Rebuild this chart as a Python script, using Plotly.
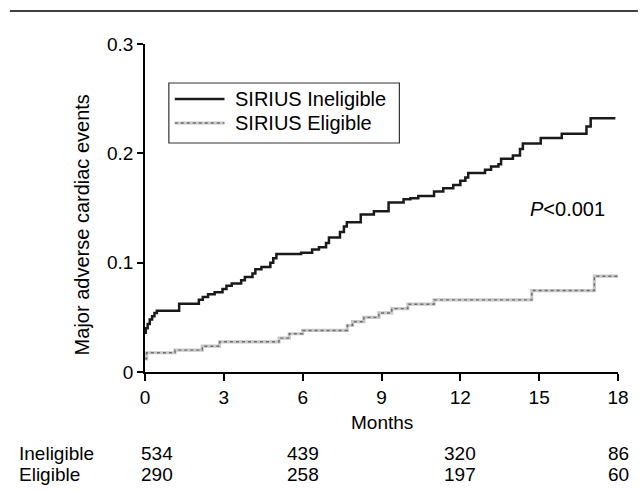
import plotly.graph_objects as go

# ---- data ----
inel_t = [0, 0.03, 0.1, 0.18, 0.27, 0.36, 0.45, 1.3, 2.05, 2.2, 2.4, 2.65, 2.95, 3.1, 3.3, 3.66,
          3.8, 4.09, 4.2, 4.43, 4.77, 4.88, 5.0, 5.94, 6.36, 6.62, 6.89, 7.0, 7.42, 7.57, 7.68,
          8.21, 8.71, 9.27, 9.84, 10.1, 10.4, 11.0, 11.35, 11.73, 12.0, 12.19, 12.3, 12.94,
          13.17, 13.45, 13.55, 14.0, 14.27, 14.38, 15.06, 15.86, 16.8, 16.96, 17.9]
inel_y = [0.036, 0.040, 0.044, 0.048, 0.051, 0.054, 0.056, 0.0625, 0.066, 0.0685, 0.071, 0.073,
          0.076, 0.079, 0.081, 0.084, 0.087, 0.090, 0.094, 0.096, 0.100, 0.104, 0.108, 0.109,
          0.112, 0.114, 0.118, 0.123, 0.128, 0.133, 0.137, 0.144, 0.147, 0.155, 0.158, 0.159,
          0.161, 0.165, 0.168, 0.171, 0.175, 0.178, 0.182, 0.185, 0.188, 0.190, 0.195, 0.198,
          0.204, 0.209, 0.214, 0.218, 0.2245, 0.232, 0.232]

elig_t = [0, 0.06, 1.14, 2.18, 2.84, 5.1, 5.49, 6.0, 7.7, 7.9, 8.33, 8.9, 9.39, 10.0, 11.0,
          14.72, 17.1, 18.08]
elig_y = [0.012, 0.0176, 0.020, 0.0236, 0.0276, 0.031, 0.035, 0.038, 0.0427, 0.046, 0.050,
          0.054, 0.058, 0.062, 0.066, 0.0745, 0.0876, 0.0876]

x_ticks = [0, 3, 6, 9, 12, 15, 18]
y_ticks = [0, 0.1, 0.2, 0.3]
y_tick_labels = ["0", "0.1", "0.2", "0.3"]

risk_times = [0, 6, 12, 18]
risk_inel = [534, 439, 320, 86]
risk_elig = [290, 258, 197, 60]

series_names = ["SIRIUS Ineligible", "SIRIUS Eligible"]
p_text = "<i>P</i><0.001"

# ---- layout geometry (pixels) ----
W, H = 641, 491
L, R, T, B = 145, 621, 44, 372
FONT = "Liberation Sans, Arial, sans-serif"
FS = 19
FS_BIG = 20


def px_x(px):
    return (px - L) / (R - L)


def px_y(py):
    return (B - py) / (B - T)


fig = go.Figure()
fig.add_trace(go.Scatter(x=inel_t, y=inel_y, mode="lines", line_shape="hv",
                         line=dict(color="#1a1a1a", width=2.5), showlegend=False,
                         name=series_names[0], cliponaxis=False))
fig.add_trace(go.Scatter(x=elig_t, y=elig_y, mode="lines", line_shape="hv",
                         line=dict(color="#c8c8c8", width=3.2), showlegend=False,
                         hoverinfo="skip", cliponaxis=False))
fig.add_trace(go.Scatter(x=elig_t, y=elig_y, mode="lines", line_shape="hv",
                         line=dict(color="#6e6e6e", width=1.4, dash="dot"), showlegend=False,
                         name=series_names[1], cliponaxis=False))

shapes = [
    # top rule
    dict(type="line", xref="paper", yref="paper", x0=px_x(9), x1=px_x(641), y0=px_y(11), y1=px_y(11),
         line=dict(color="black", width=1.5)),
    # legend box
    dict(type="rect", xref="paper", yref="paper", x0=px_x(169), x1=px_x(401), y0=px_y(83), y1=px_y(143),
         line=dict(color="#333", width=1.2), fillcolor="white"),
    dict(type="line", xref="paper", yref="paper", x0=px_x(175), x1=px_x(225), y0=px_y(99), y1=px_y(99),
         line=dict(color="#1a1a1a", width=2.5)),
    dict(type="line", xref="paper", yref="paper", x0=px_x(175), x1=px_x(225), y0=px_y(123), y1=px_y(123),
         line=dict(color="#c8c8c8", width=3.2)),
    dict(type="line", xref="paper", yref="paper", x0=px_x(175), x1=px_x(225), y0=px_y(123), y1=px_y(123),
         line=dict(color="#6e6e6e", width=1.4, dash="dot")),
]

ann = []
for name, py in zip(series_names, [99, 123]):
    ann.append(dict(xref="paper", yref="paper", x=px_x(234), y=px_y(py), text=name, showarrow=False,
                    xanchor="left", yanchor="middle", font=dict(size=FS_BIG, color="black", family=FONT)))
ann.append(dict(x=14.57, y=0.149, text=p_text, showarrow=False, xanchor="left", yanchor="middle",
                font=dict(size=FS_BIG, color="black", family=FONT)))
ann.append(dict(xref="paper", yref="paper", x=px_x(82), y=px_y(225), text="Major adverse cardiac events",
                textangle=-90, showarrow=False, xanchor="center", yanchor="middle",
                font=dict(size=FS_BIG, color="black", family=FONT)))
ann.append(dict(xref="paper", yref="paper", x=px_x(383), y=px_y(422), text="Months", showarrow=False,
                xanchor="center", yanchor="middle", font=dict(size=FS, color="black", family=FONT)))
row_y = {"Ineligible": 453, "Eligible": 474}
for label, vals in [("Ineligible", risk_inel), ("Eligible", risk_elig)]:
    ann.append(dict(xref="paper", yref="paper", x=px_x(16), y=px_y(row_y[label]), text=label,
                    showarrow=False, xanchor="left", yanchor="middle",
                    font=dict(size=FS, color="black", family=FONT)))
    for i, (t, v) in enumerate(zip(risk_times, vals)):
        ann.append(dict(x=t, xref="x", yref="paper", y=px_y(row_y[label]), text=str(v),
                        showarrow=False, xanchor="center", yanchor="middle",
                        xshift=12 if i == 0 else 0,
                        font=dict(size=FS, color="black", family=FONT)))

fig.update_layout(
    width=W, height=H,
    margin=dict(l=L, r=W - R, t=T, b=H - B, pad=0),
    paper_bgcolor="white", plot_bgcolor="white",
    font=dict(family=FONT, size=FS, color="black"),
    shapes=shapes, annotations=ann, showlegend=False,
    xaxis=dict(range=[0, 18], tickvals=x_ticks, ticks="outside", ticklen=7, tickwidth=1.5,
               tickcolor="black", showline=True, linecolor="black", linewidth=1.5,
               showgrid=False, zeroline=False, tickfont=dict(size=FS, family=FONT)),
    yaxis=dict(range=[0, 0.3], tickvals=y_ticks, ticktext=y_tick_labels, ticks="outside",
               ticklen=6, tickwidth=1.5, tickcolor="black", showline=True, linecolor="black",
               linewidth=1.5, showgrid=False, zeroline=False, tickfont=dict(size=FS, family=FONT)),
)

fig.write_html("out.html", config={"displayModeBar": False},
               post_script="document.body.style.margin='0';document.body.style.overflow='hidden';")
